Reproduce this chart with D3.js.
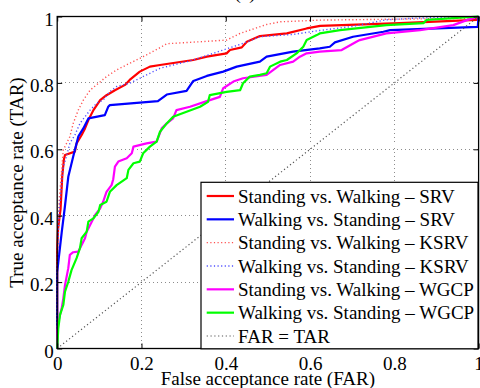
<!DOCTYPE html>
<html><head><meta charset="utf-8">
<script src="https://cdn.jsdelivr.net/npm/d3@7"></script>
<style>
html,body{margin:0;padding:0;background:#fff;}
svg{display:block;}
text{font-family:"Liberation Serif","Times New Roman",serif;font-size:19px;fill:#000;}
</style></head><body>
<svg id="chart" width="480" height="388"></svg>
<script>
// ---- data (FAR, TAR) ----
const titleText = "(a)";
const xLabel = "False acceptance rate (FAR)";
const yLabel = "True acceptance rate (TAR)";
const tickValues = [0, 0.2, 0.4, 0.6, 0.8, 1];
const tickLabels = ["0", "0.2", "0.4", "0.6", "0.8", "1"];
const gridValues = [0.2, 0.4, 0.6, 0.8];

const seriesNames = [
  "Standing vs. Walking \u2013 SRV",
  "Walking vs. Standing \u2013 SRV",
  "Standing vs. Walking \u2013 KSRV",
  "Walking vs. Standing \u2013 KSRV",
  "Standing vs. Walking \u2013 WGCP",
  "Walking vs. Standing \u2013 WGCP",
  "FAR = TAR"
];

const srvSW = [[0,0],[0,0.30],[0.002,0.36],[0.008,0.42],[0.012,0.52],[0.016,0.57],[0.0185,0.583],[0.042,0.593],[0.046,0.618],[0.058,0.643],[0.066,0.663],[0.074,0.688],[0.086,0.718],[0.102,0.748],[0.117,0.763],[0.137,0.778],[0.161,0.794],[0.172,0.809],[0.196,0.834],[0.22,0.849],[0.244,0.854],[0.323,0.869],[0.355,0.879],[0.402,0.889],[0.41,0.899],[0.438,0.907],[0.45,0.924],[0.481,0.941],[0.545,0.949],[0.592,0.964],[0.624,0.972],[0.813,0.98],[0.995,0.99],[1,1]];

const srvWS = [[0,0],[0,0.23],[0.0026,0.26],[0.0107,0.35],[0.0185,0.43],[0.0263,0.517],[0.038,0.578],[0.05,0.638],[0.062,0.663],[0.074,0.693],[0.113,0.703],[0.121,0.728],[0.125,0.733],[0.239,0.745],[0.26,0.765],[0.307,0.776],[0.323,0.806],[0.355,0.821],[0.394,0.834],[0.426,0.849],[0.481,0.864],[0.497,0.879],[0.56,0.894],[0.623,0.904],[0.647,0.909],[0.659,0.922],[0.702,0.939],[0.774,0.954],[0.79,0.959],[0.998,0.969],[1,1]];

const ksrvSW = [[0,0],[0,0.3],[0.005,0.45],[0.0107,0.538],[0.0145,0.598],[0.03,0.638],[0.038,0.678],[0.05,0.718],[0.062,0.748],[0.078,0.778],[0.098,0.799],[0.117,0.819],[0.141,0.839],[0.172,0.859],[0.204,0.879],[0.244,0.906],[0.26,0.918],[0.339,0.924],[0.402,0.929],[0.434,0.949],[0.497,0.976],[0.53,0.984],[0.62,0.989],[0.998,0.995],[1,1]];

const ksrvWS = [[0,0],[0,0.25],[0.005,0.42],[0.0145,0.548],[0.022,0.578],[0.03,0.618],[0.042,0.643],[0.054,0.678],[0.066,0.698],[0.078,0.718],[0.094,0.739],[0.109,0.748],[0.125,0.774],[0.141,0.789],[0.172,0.799],[0.188,0.809],[0.22,0.829],[0.244,0.844],[0.323,0.869],[0.441,0.919],[0.481,0.939],[0.56,0.946],[0.623,0.958],[0.70,0.97],[0.78,0.99],[0.85,0.995],[1,1]];

const wgcpSW = [[0,0],[0,0.05],[0.0026,0.081],[0.0107,0.121],[0.0145,0.151],[0.0185,0.191],[0.0263,0.242],[0.03,0.282],[0.038,0.29],[0.05,0.292],[0.058,0.312],[0.066,0.332],[0.07,0.352],[0.082,0.382],[0.09,0.402],[0.102,0.422],[0.109,0.442],[0.117,0.472],[0.129,0.492],[0.133,0.51],[0.137,0.548],[0.145,0.563],[0.165,0.573],[0.177,0.588],[0.181,0.608],[0.212,0.618],[0.236,0.623],[0.248,0.663],[0.26,0.678],[0.275,0.693],[0.283,0.718],[0.315,0.728],[0.355,0.745],[0.386,0.758],[0.394,0.784],[0.418,0.804],[0.441,0.814],[0.497,0.824],[0.513,0.839],[0.529,0.854],[0.56,0.864],[0.576,0.879],[0.592,0.889],[0.623,0.894],[0.675,0.899],[0.71,0.924],[0.718,0.929],[0.781,0.949],[0.861,0.959],[0.94,0.974],[0.972,0.989],[1,1]];

const wgcpWS = [[0,0],[0.0026,0.061],[0.0067,0.101],[0.0145,0.131],[0.0185,0.171],[0.0263,0.201],[0.034,0.236],[0.046,0.272],[0.054,0.302],[0.058,0.332],[0.07,0.352],[0.074,0.382],[0.086,0.392],[0.098,0.412],[0.102,0.432],[0.117,0.442],[0.125,0.472],[0.141,0.492],[0.165,0.513],[0.169,0.538],[0.181,0.558],[0.196,0.563],[0.204,0.588],[0.22,0.608],[0.236,0.623],[0.244,0.653],[0.26,0.678],[0.275,0.698],[0.307,0.713],[0.339,0.728],[0.358,0.743],[0.362,0.763],[0.402,0.773],[0.434,0.778],[0.441,0.799],[0.457,0.819],[0.481,0.824],[0.497,0.829],[0.505,0.849],[0.529,0.864],[0.545,0.869],[0.568,0.889],[0.584,0.909],[0.592,0.929],[0.616,0.944],[0.623,0.949],[0.671,0.959],[0.781,0.974],[0.869,0.98],[0.877,0.99],[1,1]];

const diagonal = [[0,0],[1,1]];

// ---- layout ----
const svg = d3.select("#chart");
const L = 57.2, R = 478.6, T = 16.5, B = 348.5;
const x = d3.scaleLinear().domain([0,1]).range([L,R]);
const y = d3.scaleLinear().domain([0,1]).range([B,T]);

// title (mostly clipped at top)
svg.append("text").attr("x",245).attr("y",-1).attr("text-anchor","middle").text(titleText);

// grid
const g = svg.append("g");
g.selectAll(".gx").data(gridValues).enter().append("line")
  .attr("x1",d=>x(d)).attr("x2",d=>x(d)).attr("y1",T).attr("y2",B)
  .attr("stroke","#8c8c8c").attr("stroke-width",1).attr("stroke-dasharray","1,3").attr("shape-rendering","crispEdges");
g.selectAll(".gy").data(gridValues).enter().append("line")
  .attr("y1",d=>y(d)).attr("y2",d=>y(d)).attr("x1",L).attr("x2",R)
  .attr("stroke","#8c8c8c").attr("stroke-width",1).attr("stroke-dasharray","1,3").attr("shape-rendering","crispEdges");

// curves
const line = d3.line().x(d=>x(d[0])).y(d=>y(d[1]));
const styles = [
  {data:srvSW, color:"#ff0000", w:2.2, dash:null},
  {data:srvWS, color:"#0000ff", w:2.2, dash:null},
  {data:ksrvSW, color:"#ff5050", w:1.4, dash:"1.2,2.4"},
  {data:ksrvWS, color:"#5050ff", w:1.4, dash:"1.2,2.4"},
  {data:wgcpSW, color:"#ff00ff", w:2.2, dash:null},
  {data:wgcpWS, color:"#00ff00", w:2.2, dash:null},
  {data:diagonal, color:"#555555", w:1.2, dash:"1.2,2.6"}
];
const cg = svg.append("g");
styles.forEach(s=>{
  const p = cg.append("path").datum(s.data).attr("d",line)
    .attr("fill","none").attr("stroke",s.color).attr("stroke-width",s.w)
    .attr("stroke-linejoin","round");
  if(s.dash) p.attr("stroke-dasharray",s.dash);
});

// frame
svg.append("rect").attr("x",L).attr("y",T).attr("width",R-L).attr("height",B-T)
  .attr("fill","none").attr("stroke","#000").attr("stroke-width",1.3);

// axes with inward ticks
const xAxis = d3.axisBottom(x).tickValues(tickValues).tickFormat((d,i)=>tickLabels[i]).tickSizeInner(-5).tickSizeOuter(0).tickPadding(12);
const ax = svg.append("g").attr("transform",`translate(0,${B})`).call(xAxis);
const xTop = d3.axisTop(x).tickValues(tickValues).tickFormat("").tickSizeInner(-5).tickSizeOuter(0);
const axT = svg.append("g").attr("transform",`translate(0,${T})`).call(xTop);
const yAxis = d3.axisLeft(y).tickValues(tickValues).tickFormat((d,i)=>tickLabels[i]).tickSizeInner(-5).tickSizeOuter(0).tickPadding(9);
const ay = svg.append("g").attr("transform",`translate(${L},0)`).call(yAxis);
const yRight = d3.axisRight(y).tickValues(tickValues).tickFormat("").tickSizeInner(-5).tickSizeOuter(0);
const ayR = svg.append("g").attr("transform",`translate(${R},0)`).call(yRight);
[ax,axT,ay,ayR].forEach(a=>{
  a.select(".domain").remove();
  a.selectAll("line").attr("stroke","#000");
  a.selectAll("text").attr("font-family","Liberation Serif, serif").attr("font-size",19).attr("fill","#000");
});
ax.selectAll("text").attr("dy",null).attr("y",21);
ay.selectAll("text").attr("dy",null).attr("y",8.5).attr("x",-3.5);

// axis labels
svg.append("text").attr("x",(L+R)/2).attr("y",385).attr("text-anchor","middle").text(xLabel);
svg.append("text").attr("transform",`translate(22.5,${(T+B)/2}) rotate(-90)`).attr("text-anchor","middle").text(yLabel);

// legend
const lg = svg.append("g");
lg.append("rect").attr("x",201).attr("y",182.3).attr("width",277).attr("height",166.5)
  .attr("fill","#fff").attr("stroke","#000").attr("stroke-width",1.2);
const rowY = d3.scaleLinear().domain([0,6]).range([196,336]);
seriesNames.forEach((name,i)=>{
  const s = styles[i];
  const ry = rowY(i);
  const l = lg.append("line").attr("x1",206.7).attr("x2",234).attr("y1",ry).attr("y2",ry)
    .attr("stroke",s.color).attr("stroke-width",s.w);
  if(s.dash) l.attr("stroke-dasharray",s.dash);
  lg.append("text").attr("x",238).attr("y",ry+6.7).text(name);
});
</script>
</body></html>
